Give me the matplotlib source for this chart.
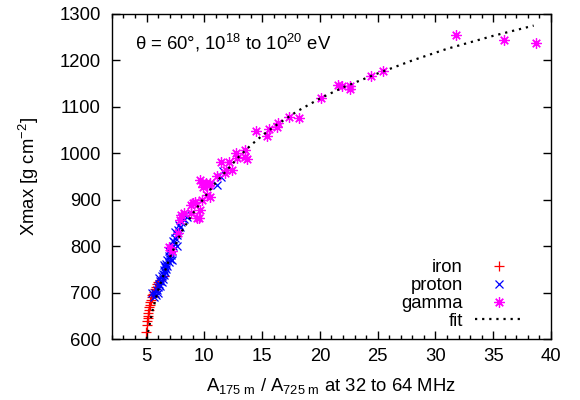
import numpy as np
import matplotlib
matplotlib.use("Agg")
import matplotlib.pyplot as plt

plt.rcParams['font.family'] = ['Liberation Sans', 'DejaVu Sans']
plt.rcParams['mathtext.fontset'] = 'custom'
plt.rcParams['mathtext.rm'] = 'Liberation Sans'
plt.rcParams['mathtext.it'] = 'Liberation Sans:italic'
plt.rcParams['font.size'] = 13.3

# iron showers
iron_x = [4.95, 5.0, 5.05, 5.1, 5.1, 5.15, 5.2, 5.25, 5.3, 5.3, 5.4, 5.45,
          5.5, 5.55, 5.6, 5.7, 5.8, 5.9, 6.0, 6.2, 6.5]
iron_y = [615, 630, 638, 645, 655, 650, 662, 668, 673, 680, 684, 690,
          695, 698, 702, 708, 712, 718, 722, 728, 735]

# proton showers
proton_x = [5.6, 5.7, 5.8, 5.9, 6.0, 6.0, 6.1, 6.2, 6.2, 6.3, 6.3, 6.4, 6.4,
            6.5, 6.5, 6.6, 6.6, 6.7, 6.7, 6.8, 6.8, 6.9, 6.9, 7.0, 7.0, 7.1,
            7.1, 7.2, 7.3, 7.3, 7.4, 7.5, 7.5, 7.6, 7.7, 7.8, 7.9, 8.0, 8.1,
            8.2, 8.3, 7.2, 6.5, 6.9, 8.5, 11.1, 11.6, 11.4, 5.5, 6.1, 7.6]
proton_y = [690, 700, 695, 705, 712, 700, 718, 715, 725, 722, 735, 730, 740,
            738, 748, 745, 755, 750, 762, 758, 770, 765, 778, 772, 785, 780,
            795, 790, 800, 812, 808, 818, 830, 825, 835, 845, 842, 852, 860,
            858, 868, 770, 760, 790, 862, 932, 962, 948, 700, 732, 800]

# gamma showers
gamma_x = [6.9, 7.2, 7.7, 7.9, 8.0, 8.2, 8.8, 8.8, 9.0, 9.2, 9.35, 9.5, 9.6,
           9.8, 9.8, 9.9, 10.1, 10.2, 10.2, 10.4, 10.5, 10.5, 9.6, 11.1, 11.4,
           11.8, 11.9, 12.1, 12.4, 12.7, 12.8, 13.5, 13.5, 13.7, 14.5, 15.4,
           15.6, 16.3, 16.4, 17.3, 18.2, 20.1, 21.6, 21.9, 22.6, 22.6, 24.4,
           25.5, 31.75, 35.9, 38.7]
gamma_y = [799, 790, 828, 856, 867, 871, 871, 889, 893, 896, 860, 860, 878,
           900, 935, 928, 935, 910, 932, 932, 906, 935, 942, 950, 982,
           957, 964, 982, 964, 1000, 989, 1007, 993, 987, 1048, 1037,
           1052, 1056, 1066, 1079, 1075, 1120, 1147, 1145, 1145, 1138, 1166,
           1177, 1255, 1244, 1238]

# fit curve
fit_x = [5.0, 5.5, 6.0, 7.0, 8.0, 9.0, 10.0, 11.0, 12.0, 13.0, 14.0, 15.0,
         16.0, 18.0, 20.0, 22.0, 25.0, 28.0, 31.0, 35.0, 38.5]
fit_y = [600, 660, 705, 775, 830, 870, 905, 937, 965, 993, 1017, 1038,
         1057, 1090, 1118, 1142, 1172, 1200, 1225, 1253, 1275]

fig = plt.figure(figsize=(5.8, 4.0), dpi=100)
ax = fig.add_axes([0.193, 0.1525, 0.757, 0.8125])

ax.plot(iron_x, iron_y, linestyle='none', marker='+', color='#ff0000',
        markersize=6.5, markeredgewidth=0.9, label='iron')
ax.plot(proton_x, proton_y, linestyle='none', marker='x', color='#0000ff',
        markersize=5.5, markeredgewidth=0.9, label='proton')
ax.plot(gamma_x, gamma_y, linestyle='none', marker=(8, 2, 0), color='#ff00ff',
        markersize=7.5, markeredgewidth=0.9, label='gamma')
ax.plot(fit_x, fit_y, color='black', linewidth=1.6, dashes=(1, 2.2),
        dash_capstyle='butt', label='fit')

ax.set_xlim(2, 40)
ax.set_ylim(600, 1300)
ax.set_xticks(np.arange(5, 41, 5))
ax.set_xticks(np.arange(2, 41, 1), minor=True)
ax.set_yticks(np.arange(600, 1301, 100))
ax.tick_params(which='both', direction='in', top=True, right=True, width=1)
ax.tick_params(which='major', length=5.8)
ax.tick_params(which='minor', length=2.9)
ax.tick_params(axis='x', which='major', pad=6.5)
ax.tick_params(axis='y', which='major', pad=8)
for s in ax.spines.values():
    s.set_linewidth(1)

ax.set_xlabel(r'A$_{175\ \mathrm{m}}$ / A$_{725\ \mathrm{m}}$ at 32 to 64 MHz',
              labelpad=8)
ax.set_ylabel(r'Xmax [g cm$^{-2}$]', labelpad=13)

ax.text(0.052, 0.911, r'θ = 60°, 10$^{18}$ to 10$^{20}$ eV',
        transform=ax.transAxes, va='center', ha='left')

ax.legend(loc='lower right', bbox_to_anchor=(0.936, 0.028), frameon=False,
          markerfirst=False, numpoints=1, handlelength=2.6,
          handletextpad=0.65, labelspacing=0.05, borderaxespad=0, borderpad=0)

fig.savefig('out.png', dpi=100)
